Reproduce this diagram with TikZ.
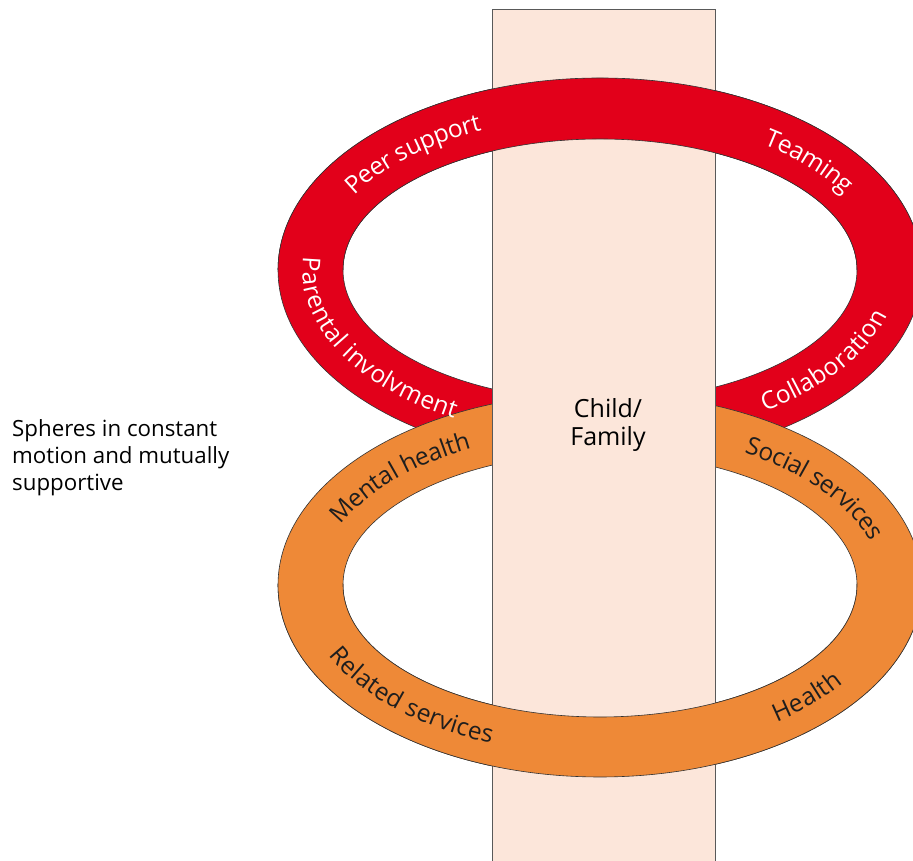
\documentclass[tikz,border=0pt]{standalone}
\usepackage{fontspec}
\setmainfont{Open Sans}
\usetikzlibrary{decorations.text}
\definecolor{ringred}{HTML}{E2001A}
\definecolor{ringorange}{HTML}{EE8937}
\definecolor{colfill}{HTML}{FCE6DA}
\definecolor{darktext}{HTML}{1E1E1E}
\newcommand\ringfont{\fontsize{24.5}{28}\selectfont}
\newcommand\ringlabel[5]{%
  \path[decorate, decoration={text along path, text align=center, text color=#4, raise=-8pt,
    text={|\ringfont|#5}}]
    ([shift={(#1)}]#2:289.5pt and 162pt) arc[start angle=#2, end angle=#3, x radius=289.5pt, y radius=162pt];}
\tikzset{
  ringedge/.style={draw=black!80, line width=0.6pt, even odd rule},
  column/.style={fill=colfill, draw=black!65, line width=0.8pt},
}
\begin{document}
\begin{tikzpicture}[x=1pt,y=1pt]
\clip (0,0) rectangle (913,861);
\fill[white] (0,0) rectangle (913,861);
\coordinate (rc) at (600,591);
\coordinate (oc) at (600,276);
% red ring (whole)
\path[ringedge, fill=ringred] (rc) ellipse[x radius=322pt, y radius=192pt] (rc) ellipse[x radius=257pt, y radius=131pt];
\ringlabel{rc}{293}{363}{white}{Collaboration}
% orange ring (whole)
\path[ringedge, fill=ringorange] (oc) ellipse[x radius=322pt, y radius=192pt] (oc) ellipse[x radius=257pt, y radius=132pt];
\ringlabel{oc}{175}{105}{darktext}{Mental health}
\ringlabel{oc}{70}{0}{darktext}{Social services}
% column
\path[column] (492.5,851.5) rectangle (715.5,-5);
\node[font=\fontsize{25}{28}\selectfont, align=center, anchor=base, inner sep=0pt] (cf) at (608,415) {Child/\\Family};
% red ring top half over column
\begin{scope}
\clip (0,591) rectangle (913,861);
\path[ringedge, fill=ringred] (rc) ellipse[x radius=322pt, y radius=192pt] (rc) ellipse[x radius=257pt, y radius=131pt];
\end{scope}
\ringlabel{rc}{160}{250}{white}{Parental involvment}
\ringlabel{rc}{171}{101}{white}{Peer support}
\ringlabel{rc}{73}{3}{white}{Teaming}
% orange ring bottom half over column
\begin{scope}
\clip (0,0) rectangle (913,276);
\path[ringedge, fill=ringorange] (oc) ellipse[x radius=322pt, y radius=192pt] (oc) ellipse[x radius=257pt, y radius=132pt];
\end{scope}
\ringlabel{oc}{188}{258}{darktext}{Related services}
\ringlabel{oc}{286}{356}{darktext}{Health}
% side text
\node[font=\fontsize{22.3}{27}\selectfont, align=left, anchor=north west, inner sep=0pt] (side) at (12,442) {Spheres in constant\\motion and mutually\\supportive};
\end{tikzpicture}
\end{document}
